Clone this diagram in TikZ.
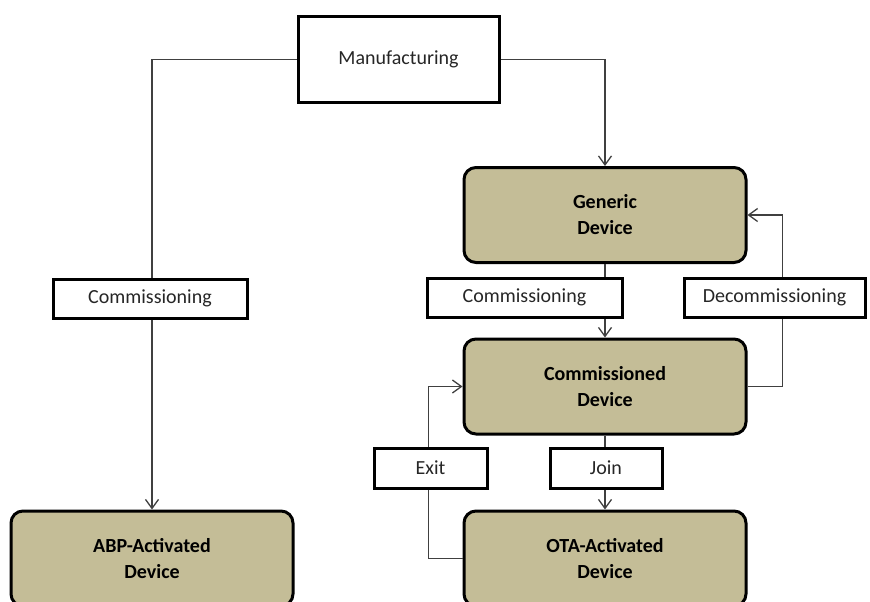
\documentclass[tikz,border=0pt]{standalone}
\usepackage{fontspec}
\setmainfont{Carlito}
\usetikzlibrary{arrows.meta}
\definecolor{tan}{HTML}{C4BD97}
\definecolor{conn}{HTML}{404040}
\tikzset{
  state/.style={draw=black, line width=3pt, fill=tan, rounded corners=12pt,
    minimum width=282pt, minimum height=95pt, align=center,
    font=\fontsize{20}{26}\selectfont\bfseries, inner sep=0pt},
  label/.style={draw=black, line width=3pt, fill=white, minimum height=39pt,
    align=center, font=\fontsize{20}{26}\selectfont, inner sep=0pt, text=black!85},
  conn/.style={draw=conn, line width=1.3pt},
  arr/.style={conn, -{Straight Barb[length=9pt, width=13pt, line width=1.3pt]}}
}
\begin{document}
\begin{tikzpicture}[x=1pt, y=-1pt]
\useasboundingbox (0,0) rectangle (870,602);
\clip (0,0) rectangle (870,602);
% state nodes
\node[label, minimum width=201pt, minimum height=85pt] (man) at (398.5,59.5) {Manufacturing};
\node[state] (gen) at (605,215) {Generic\\Device};
\node[state] (com) at (605,386.5) {Commissioned\\Device};
\node[state] (ota) at (605,558.5) {OTA-Activated\\Device};
\node[state] (abp) at (152,558.5) {ABP-Activated\\Device};
% connectors
\draw[arr] (man.west) -| (abp.north);
\draw[arr] (man.east) -| (gen.north);
\draw[arr] (gen.south) -- (com.north);
\draw[arr] (com.east) -- ++(35,0) |- (gen.east);
\draw[arr] (com.south) -- (ota.north);
\draw[arr] (ota.west) -- ++(-34,0) |- (com.west);
% labels on connectors
\node[label, minimum width=194pt] (lc) at (150,298.5) {Commissioning};
\node[label, minimum width=195pt] (rc) at (524.5,297.5) {Commissioning};
\node[label, minimum width=181pt] (dec) at (774.5,297.5) {Decommissioning};
\node[label, minimum width=113pt, minimum height=40pt] (exit) at (430.5,468) {Exit};
\node[label, minimum width=112pt, minimum height=40pt] (join) at (606,468) {Join};
\end{tikzpicture}
\end{document}
